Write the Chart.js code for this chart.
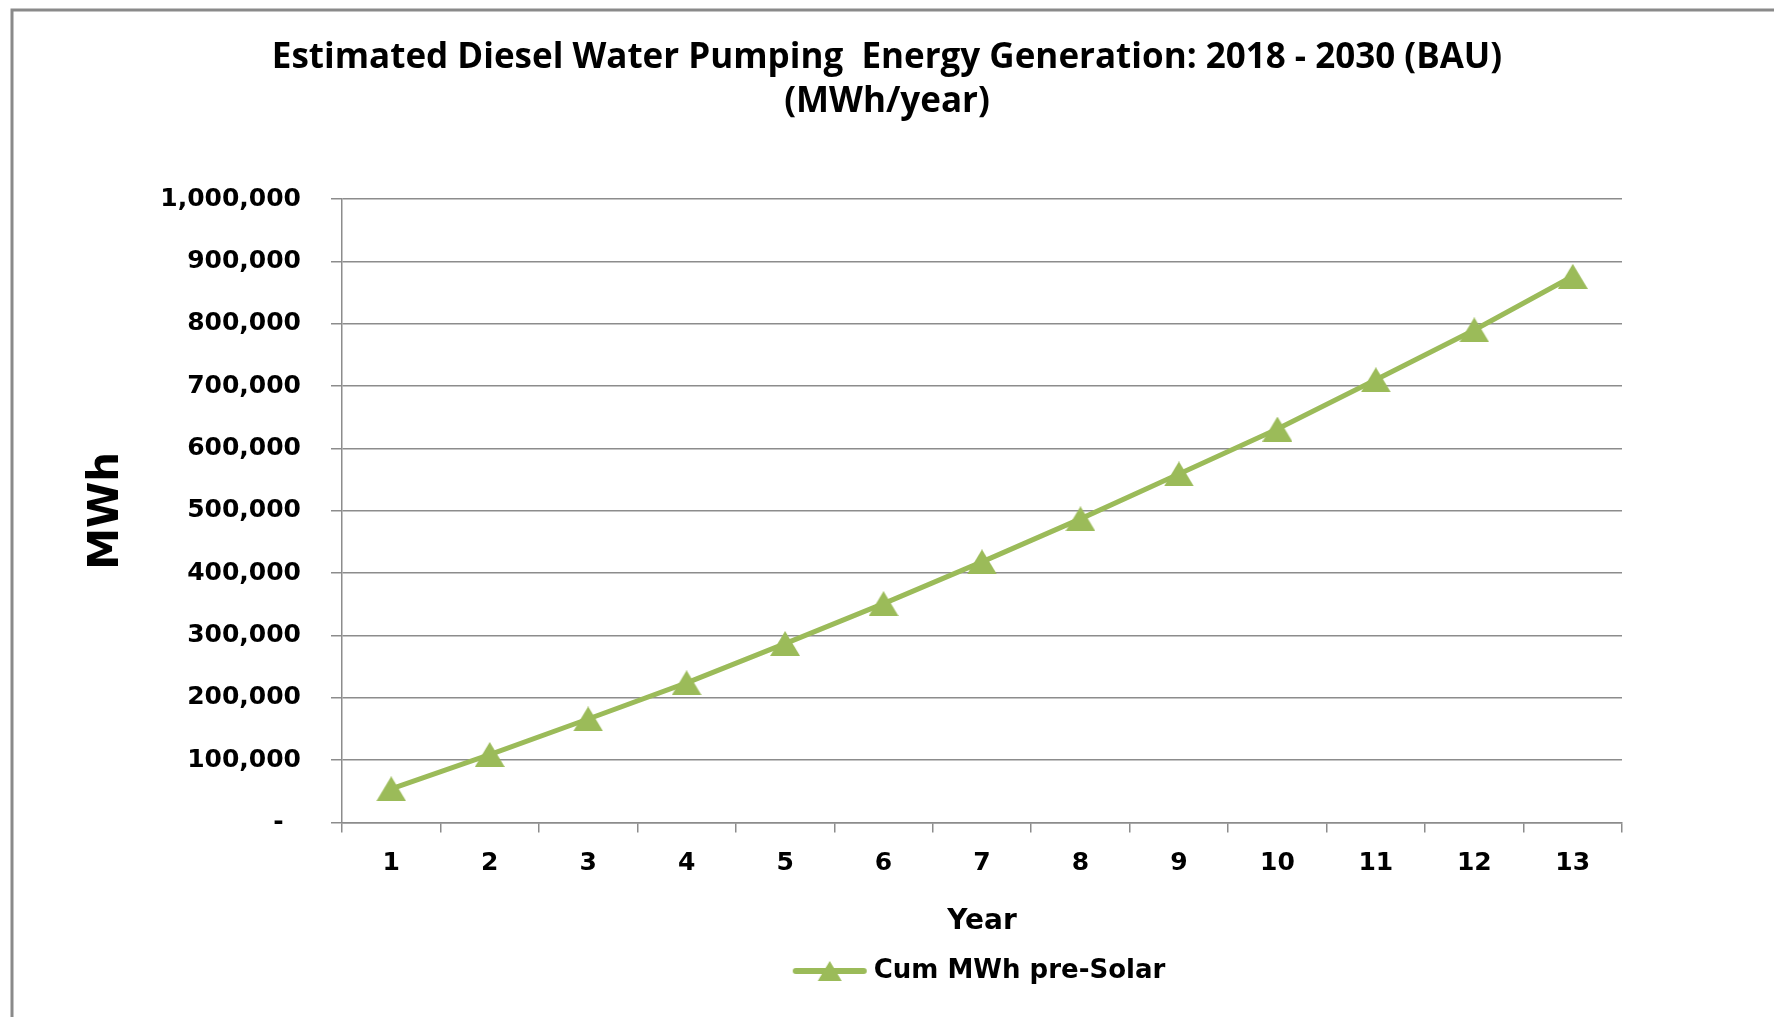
<!DOCTYPE html>
<html>
<head>
<meta charset="utf-8">
<script src="https://cdn.jsdelivr.net/npm/chart.js@4.4.1/dist/chart.umd.min.js"></script>
<style>
  html, body { margin: 0; padding: 0; background: #ffffff; }
  #wrap { position: relative; width: 1774px; height: 1017px; }
</style>
</head>
<body>
<div id="wrap"><canvas id="chart" width="1774" height="1017"></canvas></div>
<script>
// Year index along the x axis
const years = ['1', '2', '3', '4', '5', '6', '7', '8', '9', '10', '11', '12', '13'];
// Cumulative diesel pumping energy (MWh), business as usual
const cumMWhPreSolar = [54000, 109000, 166000, 224000, 287000, 351000, 418000, 487000, 559000, 631000, 710000, 790000, 876000];
const seriesName = 'Cum MWh pre-Solar';
const titleLines = ['Estimated Diesel Water Pumping  Energy Generation: 2018 - 2030 (BAU)', '(MWh/year)'];
const xAxisTitle = 'Year';
const yAxisTitle = 'MWh';
const yTickMin = 0;
const yTickMax = 1000000;
const yTickStep = 100000;

const GREEN = '#9BBB59';
const GRID = '#8c8c8c';
const TICK_FONT = { family: 'DejaVu Sans', size: 25, weight: 'bold' };

// Triangle marker, centred on its bounding box
function triangleMarker(w, h) {
  const c = document.createElement('canvas');
  c.width = w; c.height = h;
  const g = c.getContext('2d');
  g.fillStyle = GREEN;
  g.beginPath();
  g.moveTo(w / 2, 0);
  g.lineTo(w, h);
  g.lineTo(0, h);
  g.closePath();
  g.fill();
  return c;
}

// Legend glyph: line segment with a triangle in the middle
function legendGlyph() {
  const w = 76, h = 22;
  const c = document.createElement('canvas');
  c.width = w; c.height = h;
  const g = c.getContext('2d');
  g.strokeStyle = GREEN;
  g.lineWidth = 6;
  g.lineCap = 'round';
  g.beginPath();
  g.moveTo(4, h / 2);
  g.lineTo(w - 4, h / 2);
  g.stroke();
  g.drawImage(triangleMarker(24, 20), w / 2 - 12, 1);
  return c;
}

const pointImg = triangleMarker(30, 25);
const legendImg = legendGlyph();

// Gray frame along the top and left edges
const framePlugin = {
  id: 'frame',
  beforeDraw(chart) {
    const ctx = chart.ctx;
    ctx.save();
    ctx.strokeStyle = '#8a8a8a';
    ctx.lineWidth = 3;
    ctx.beginPath();
    ctx.moveTo(12, chart.height);
    ctx.lineTo(12, 10);
    ctx.lineTo(chart.width, 10);
    ctx.stroke();
    ctx.restore();
  }
};

new Chart(document.getElementById('chart'), {
  type: 'line',
  data: {
    labels: years,
    datasets: [{
      label: seriesName,
      data: cumMWhPreSolar,
      borderColor: GREEN,
      backgroundColor: GREEN,
      borderWidth: 5,
      tension: 0,
      pointStyle: pointImg,
      pointRadius: 15,
      pointHoverRadius: 15,
      yAxisID: 'y'
    }]
  },
  options: {
    responsive: false,
    animation: false,
    devicePixelRatio: 1,
    layout: { padding: { left: 0, right: 0, top: 0, bottom: 23 } },
    plugins: {
      tooltip: { enabled: false },
      title: {
        display: true,
        text: titleLines,
        color: '#000',
        font: { family: 'Open Sans', size: 35, weight: 'bold', lineHeight: 44 / 35 },
        padding: { top: 36.5, bottom: 74.5 }
      },
      legend: {
        display: true,
        position: 'bottom',
        fullSize: false,
        labels: {
          color: '#000',
          font: { family: 'DejaVu Sans', size: 26, weight: 'bold' },
          usePointStyle: true,
          pointStyleWidth: 62,
          padding: 10,
          generateLabels(chart) {
            const items = Chart.defaults.plugins.legend.labels.generateLabels(chart);
            items.forEach(it => { it.pointStyle = legendImg; });
            return items;
          }
        }
      }
    },
    scales: {
      x: {
        type: 'category',
        offset: true,
        grid: {
          display: true,
          offset: true,
          drawOnChartArea: false,
          drawTicks: true,
          tickLength: 10,
          color: GRID,
          lineWidth: 1.5
        },
        border: { display: true, color: GRID, width: 1.5 },
        ticks: { color: '#000', font: TICK_FONT, padding: 16, maxRotation: 0, autoSkip: false },
        title: {
          display: true,
          text: xAxisTitle,
          color: '#000',
          font: { family: 'DejaVu Sans', size: 28, weight: 'bold' },
          padding: { top: 0, bottom: 9 }
        },
        afterFit(scale) { scale.height = 125.5; }
      },
      y: {
        position: 'left',
        min: yTickMin,
        max: yTickMax,
        grid: {
          color: GRID,
          lineWidth: 1.5,
          drawTicks: true,
          tickLength: 11
        },
        border: { display: true, color: GRID, width: 1.5 },
        ticks: {
          stepSize: yTickStep,
          color: '#000',
          font: TICK_FONT,
          padding: 30,
          callback(value) {
            return value === 0 ? '-  ' : value.toLocaleString('en-US');
          }
        },
        title: {
          display: true,
          text: yAxisTitle,
          color: '#000',
          font: { family: 'DejaVu Sans', size: 42, weight: 'bold' },
          padding: { top: 82, bottom: 0 }
        },
        afterFit(scale) { scale.width = 342; }
      },
      // Empty right-hand margin beside the plot
      yRight: {
        position: 'right',
        display: true,
        grid: { display: false, drawOnChartArea: false, drawTicks: false },
        border: { display: false },
        ticks: { display: false },
        afterFit(scale) { scale.width = 152; }
      }
    }
  },
  plugins: [framePlugin]
});
</script>
</body>
</html>
